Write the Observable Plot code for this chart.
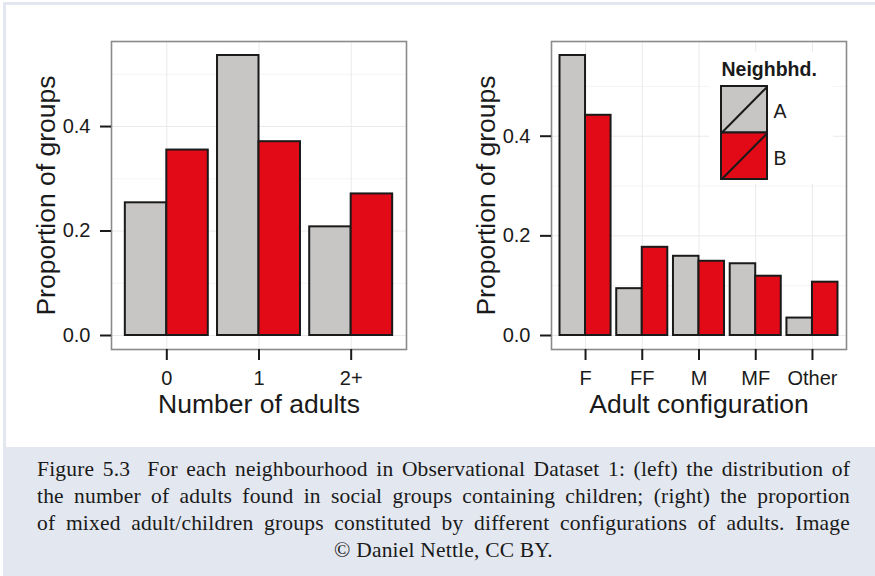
<!DOCTYPE html>
<html>
<head>
<meta charset="utf-8">
<script src="https://cdn.jsdelivr.net/npm/d3@7"></script>
<script src="https://cdn.jsdelivr.net/npm/@observablehq/plot@0.6"></script>
<style>
  html, body { margin: 0; padding: 0; background: #ffffff; }
  #page { position: relative; width: 875px; height: 576px; overflow: hidden; background: #ffffff; }
  #band { position: absolute; left: 3px; top: 2px; right: 0; bottom: 0; background: #e3e7ef; }
  #white { position: absolute; left: 6px; top: 5px; right: 0; height: 442px; background: #ffffff; }
  .chart { position: absolute; top: 0; }
  #legend { position: absolute; left: 709px; top: 52px; }
  #caption { position: absolute; left: 37px; top: 456px; width: 813px;
    font-family: "Liberation Serif", "DejaVu Serif", serif; font-size: 21.5px; letter-spacing: 0.2px;
    line-height: 27px; color: #1a1a1a; }
  #caption div { text-align: justify; text-align-last: justify; white-space: nowrap; }
  #caption div.last { text-align: center; text-align-last: center; }
</style>
</head>
<body>
<div id="page">
  <div id="band"></div>
  <div id="white"></div>
  <div id="left" class="chart" style="left:0px"></div>
  <div id="right" class="chart" style="left:440px"></div>
  <div id="legend"></div>
  <div id="caption"></div>
</div>
<script>
// ---- data ----
const adultCats = ["0", "1", "2+"];
const adultA = [0.254, 0.536, 0.208];
const adultB = [0.355, 0.371, 0.271];

const configCats = ["F", "FF", "M", "MF", "Other"];
const configA = [0.562, 0.094, 0.159, 0.144, 0.035];
const configB = [0.442, 0.177, 0.149, 0.119, 0.107];

const groups = ["A", "B"];
const groupColors = ["#c7c6c4", "#e20a16"];
const yTicks = [0, 0.2, 0.4];
const yMinorTicks = [0.1, 0.3, 0.5];
const yTitle = "Proportion of groups";
const leftTitle = "Number of adults";
const rightTitle = "Adult configuration";
const legendTitle = "Neighbhd.";
const captionLines = [
  "Figure 5.3\u00a0 For each neighbourhood in Observational Dataset 1: (left) the distribution of",
  "the number of adults found in social groups containing children; (right) the proportion",
  "of mixed adult/children groups constituted by different configurations of adults. Image",
  "© Daniel Nettle, CC BY."
];

const INK = "#1a1a1a";
const FONT = "'Liberation Sans', Arial, Helvetica, sans-serif";

function makeChart(cats, A, B, xTitle, width, marginRight) {
  const rows = [];
  cats.forEach((c, i) => {
    rows.push({cat: c, pos: i + 1, group: groups[0], value: A[i]});
    rows.push({cat: c, pos: i + 1, group: groups[1], value: B[i]});
  });
  const positions = cats.map((c, i) => i + 1);
  const max = d3.max(rows, d => d.value);
  const half = 0.45; // dodge: group width 0.9 split in two
  return Plot.plot({
    width, height: 447,
    marginLeft: 111, marginRight, marginTop: 41, marginBottom: 98,
    x: {domain: [0.4, cats.length + 0.6]},
    y: {domain: [-0.05 * max, 1.05 * max]},
    color: {domain: groups, range: groupColors},
    style: {fontFamily: FONT, color: INK, background: "transparent", overflow: "visible"},
    marks: [
      Plot.gridY({ticks: yMinorTicks, stroke: "#f4f4f4", strokeOpacity: 1, strokeWidth: 1}),
      Plot.gridY({ticks: yTicks, stroke: "#eaeaea", strokeOpacity: 1, strokeWidth: 1}),
      Plot.gridX({ticks: positions, stroke: "#eaeaea", strokeOpacity: 1, strokeWidth: 1}),
      Plot.rectY(rows, {
        x1: d => d.group === groups[0] ? d.pos - half : d.pos,
        x2: d => d.group === groups[0] ? d.pos : d.pos + half,
        y1: 0, y2: "value",
        fill: "group", stroke: INK, strokeWidth: 2
      }),
      Plot.frame({stroke: "#8a8a8a", strokeWidth: 1.6}),
      Plot.axisY({ticks: yTicks, tickSize: 11, tickPadding: 10, tickFormat: d3.format(".1f"),
        fontSize: 20, strokeWidth: 2, label: null}),
      Plot.axisX({ticks: positions, tickSize: 11, tickPadding: 10, tickFormat: i => cats[i - 1],
        fontSize: 20, strokeWidth: 2, label: null}),
      Plot.text([xTitle], {frameAnchor: "bottom", lineAnchor: "middle", textAnchor: "middle",
        dy: 55.4, fontSize: 26.5, fill: INK}),
      Plot.text([yTitle], {frameAnchor: "left", lineAnchor: "middle", textAnchor: "middle",
        dx: -64.5, rotate: -90, fontSize: 26.5, fill: INK})
    ]
  });
}

document.getElementById("left").appendChild(makeChart(adultCats, adultA, adultB, leftTitle, 440, 34));
document.getElementById("right").appendChild(makeChart(configCats, configA, configB, rightTitle, 435, 29));

// ---- legend ----
const legendRows = groups.map((g, i) => ({group: g, i}));
const legend = Plot.plot({
  width: 124, height: 132,
  marginLeft: 12, marginRight: 66, marginTop: 34, marginBottom: 5,
  x: {domain: [0, 1], axis: null},
  y: {domain: [0, groups.length], reverse: true, axis: null},
  color: {domain: groups, range: groupColors},
  style: {fontFamily: FONT, color: INK, background: "#ffffff", overflow: "visible"},
  marks: [
    Plot.rect(legendRows, {x1: 0, x2: 1, y1: d => d.i, y2: d => d.i + 1, fill: "group", stroke: INK, strokeWidth: 2}),
    Plot.link(legendRows, {x1: 0, y1: d => d.i + 1, x2: 1, y2: d => d.i, stroke: INK, strokeWidth: 2}),
    Plot.text(legendRows, {x: 1, y: d => d.i + 0.5, text: "group", dx: 6, dy: 2, textAnchor: "start", fontSize: 19.5, fill: INK}),
    Plot.text([legendTitle], {frameAnchor: "top-left", lineAnchor: "middle", dy: -17.2, textAnchor: "start",
      fontSize: 19.5, fontWeight: "bold", fill: INK})
  ]
});
document.getElementById("legend").appendChild(legend);

// ---- caption ----
const cap = document.getElementById("caption");
captionLines.forEach((t, i) => {
  const d = document.createElement("div");
  d.textContent = t;
  if (i === captionLines.length - 1) d.className = "last";
  cap.appendChild(d);
});
</script>
</body>
</html>
